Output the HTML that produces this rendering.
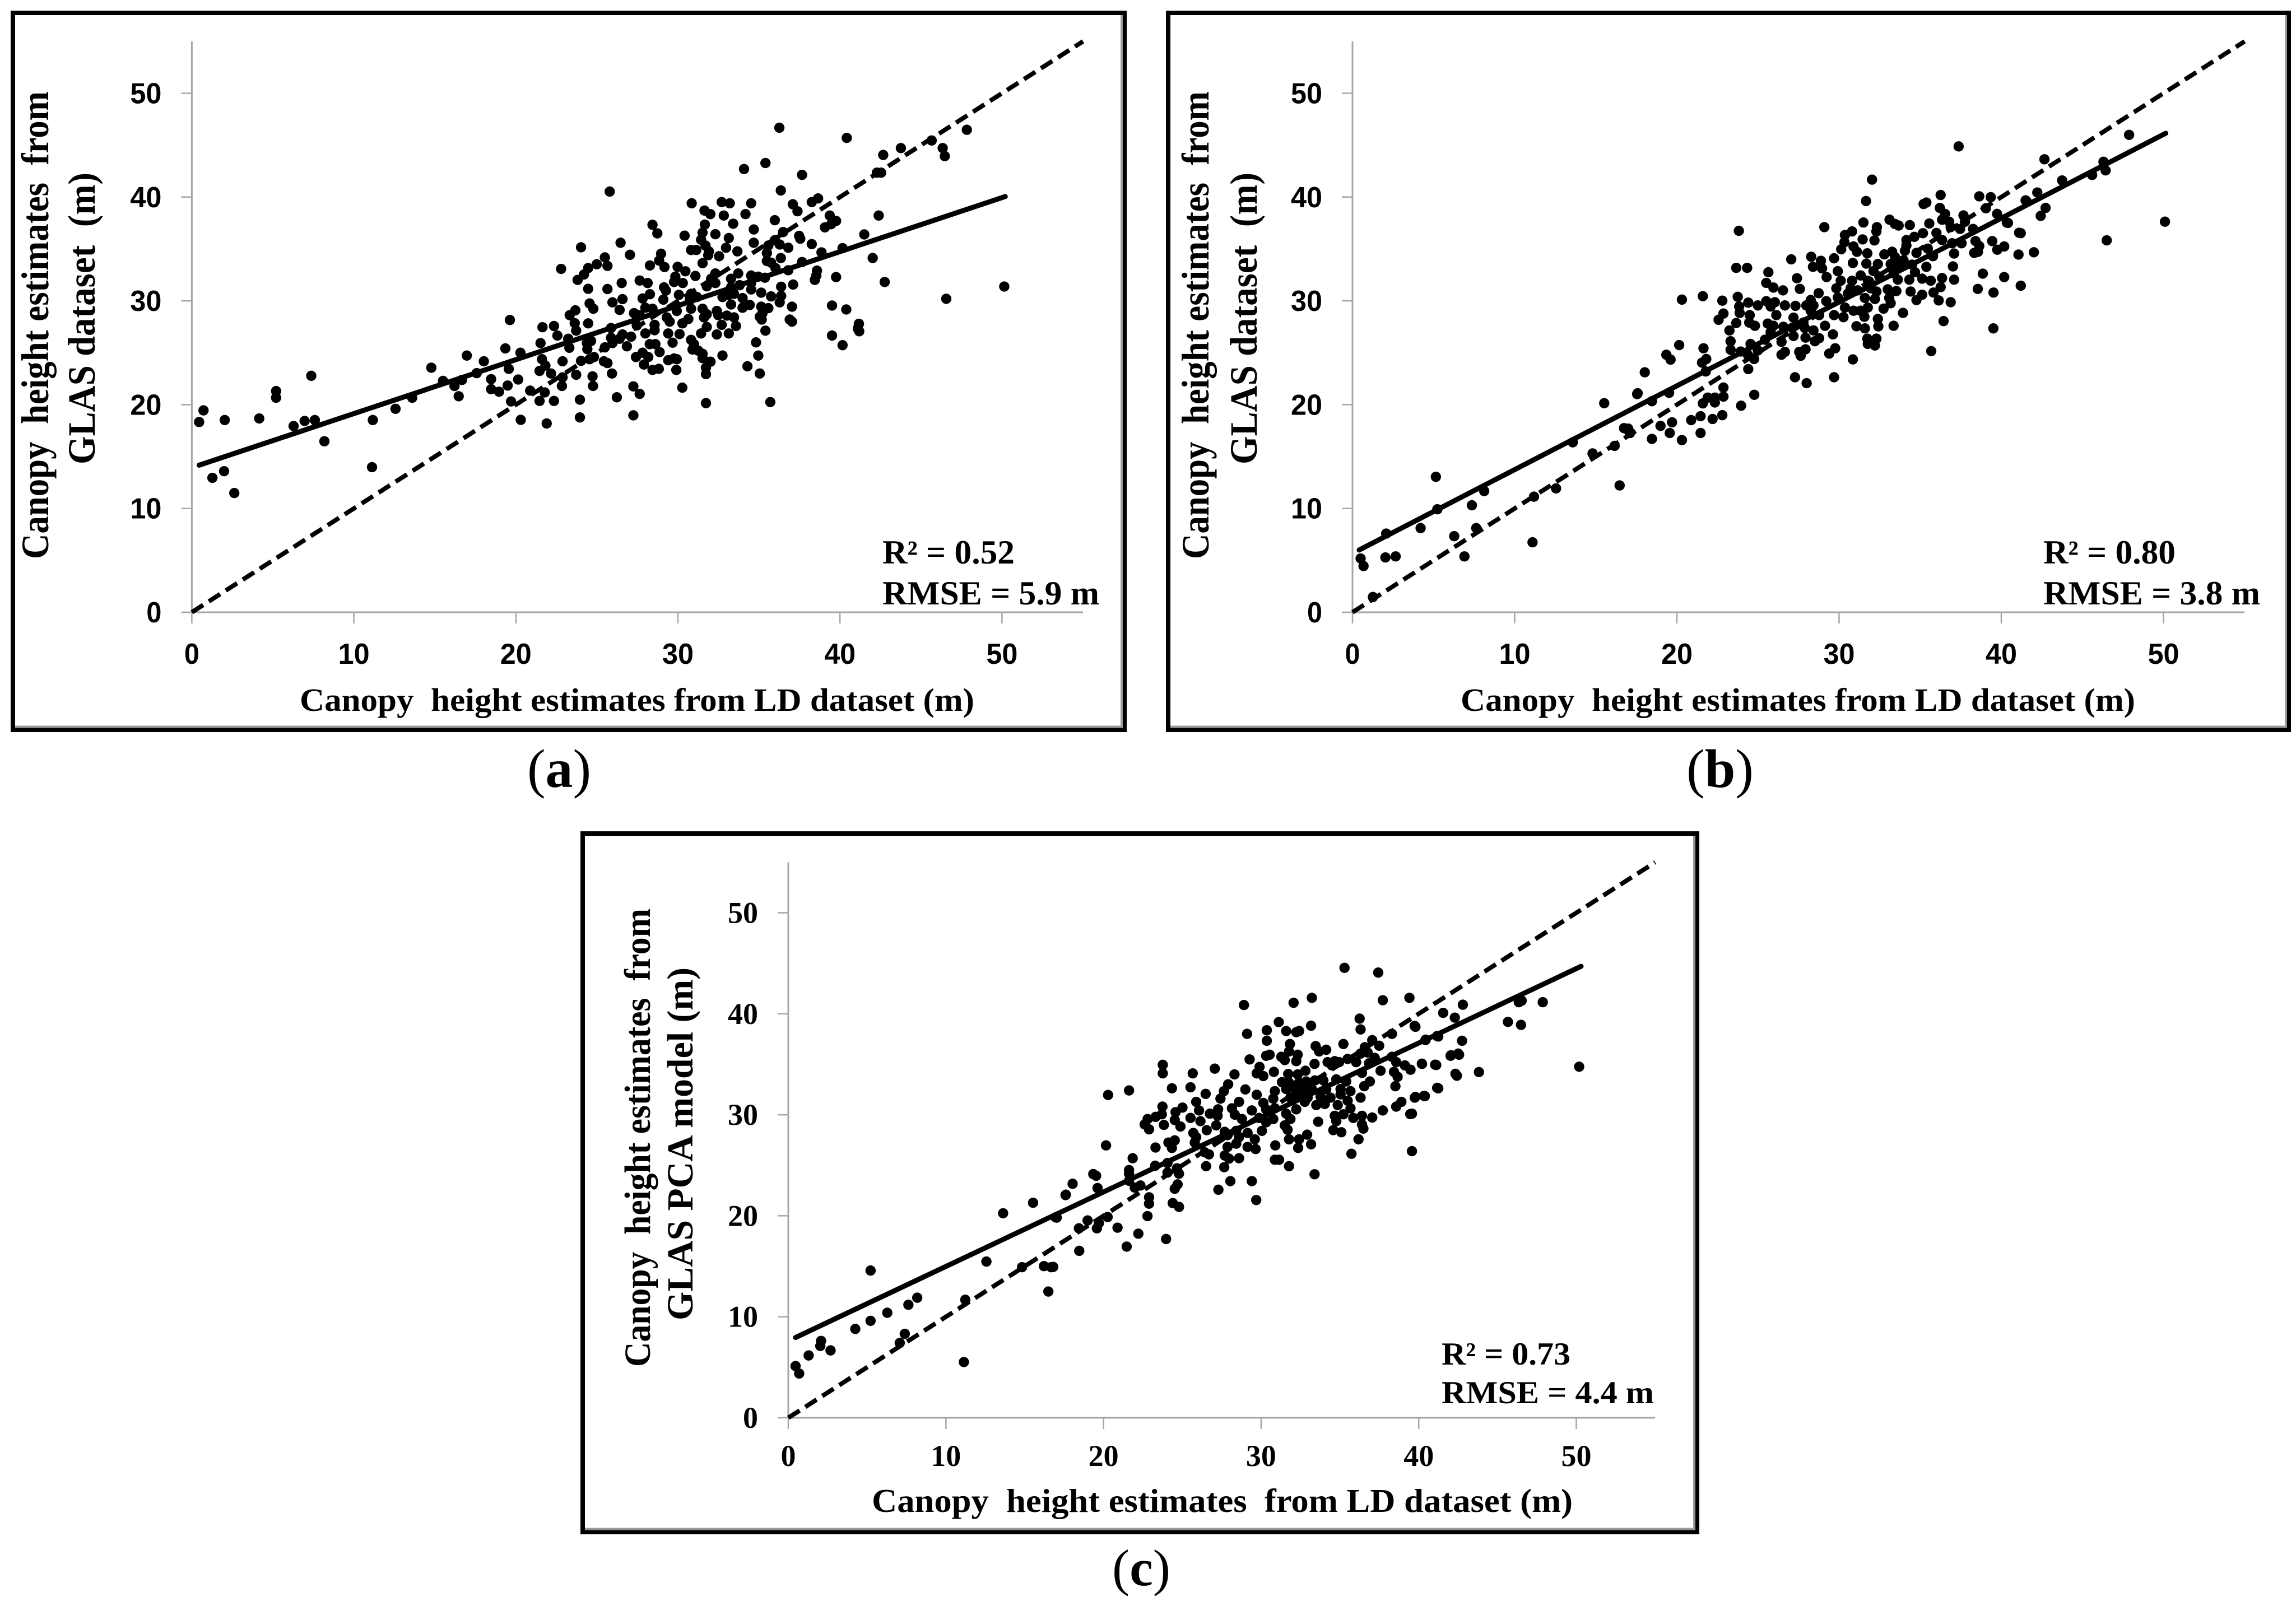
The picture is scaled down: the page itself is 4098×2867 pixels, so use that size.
<!DOCTYPE html>
<html lang="en">
<head>
<meta charset="utf-8">
<title>Canopy height estimates comparison</title>
<style>
html,body{margin:0;padding:0;background:#fff;}
svg{display:block;}
.serif{font-family:"Liberation Serif","Times New Roman",serif;font-weight:700;fill:#000;}
</style>
</head>
<body>
<svg id="figure" xmlns="http://www.w3.org/2000/svg" width="4098" height="2867" viewBox="0 0 4098 2867">
<rect x="0" y="0" width="4098" height="2867" fill="#fff"/>

<g id="panel-a">
<rect x="23" y="23" width="1984" height="1280" fill="#fff" stroke="#000" stroke-width="8"/>
<path d="M2002 27V1297.5H27" fill="none" stroke="#999" stroke-width="4"/>
<text class="serif" x="535" y="1269" font-size="58" textLength="1204" lengthAdjust="spacingAndGlyphs" xml:space="preserve">Canopy  height estimates from LD dataset (m)</text>
<text class="serif" transform="translate(86,998) rotate(-90)" font-size="69" textLength="835" lengthAdjust="spacingAndGlyphs" xml:space="preserve">Canopy  height estimates  from</text>
<text class="serif" transform="translate(169,829) rotate(-90)" font-size="69" textLength="521" lengthAdjust="spacingAndGlyphs" xml:space="preserve">GLAS dataset  (m)</text>
<text class="serif" x="1575" y="1006" font-size="60" textLength="236" lengthAdjust="spacingAndGlyphs">R² = 0.52</text>
<text class="serif" x="1575" y="1079" font-size="60" textLength="387" lengthAdjust="spacingAndGlyphs">RMSE = 5.9 m</text>
</g>
<text class="serif" x="941" y="1405" font-size="98" textLength="114" lengthAdjust="spacingAndGlyphs"><tspan font-weight="400">(</tspan>a<tspan font-weight="400">)</tspan></text>

<g id="panel-b">
<rect x="2085" y="23" width="2000" height="1280" fill="#fff" stroke="#000" stroke-width="8"/>
<path d="M4080 27V1297.5H2089" fill="none" stroke="#999" stroke-width="4"/>
<text class="serif" x="2607" y="1269" font-size="58" textLength="1204" lengthAdjust="spacingAndGlyphs" xml:space="preserve">Canopy  height estimates from LD dataset (m)</text>
<text class="serif" transform="translate(2157,998) rotate(-90)" font-size="69" textLength="835" lengthAdjust="spacingAndGlyphs" xml:space="preserve">Canopy  height estimates  from</text>
<text class="serif" transform="translate(2243,829) rotate(-90)" font-size="69" textLength="521" lengthAdjust="spacingAndGlyphs" xml:space="preserve">GLAS dataset  (m)</text>
<text class="serif" x="3647" y="1006" font-size="60" textLength="236" lengthAdjust="spacingAndGlyphs">R² = 0.80</text>
<text class="serif" x="3647" y="1079" font-size="60" textLength="387" lengthAdjust="spacingAndGlyphs">RMSE = 3.8 m</text>
</g>
<text class="serif" x="3010" y="1405" font-size="98" textLength="120" lengthAdjust="spacingAndGlyphs"><tspan font-weight="400">(</tspan>b<tspan font-weight="400">)</tspan></text>

<g id="panel-c">
<rect x="1040" y="1488" width="1989" height="1247" fill="#fff" stroke="#000" stroke-width="8"/>
<path d="M3024 1492V2729.5H1044" fill="none" stroke="#999" stroke-width="4"/>
<text class="serif" x="1556" y="2699" font-size="59" textLength="1251" lengthAdjust="spacingAndGlyphs" xml:space="preserve">Canopy  height estimates  from LD dataset (m)</text>
<text class="serif" transform="translate(1160,2440) rotate(-90)" font-size="66" textLength="818" lengthAdjust="spacingAndGlyphs" xml:space="preserve">Canopy  height estimates  from</text>
<text class="serif" transform="translate(1236,2357) rotate(-90)" font-size="66" textLength="630" lengthAdjust="spacingAndGlyphs" xml:space="preserve">GLAS PCA model (m)</text>
<text class="serif" x="2573" y="2436" font-size="57" textLength="230" lengthAdjust="spacingAndGlyphs">R² = 0.73</text>
<text class="serif" x="2573" y="2505" font-size="57" textLength="379" lengthAdjust="spacingAndGlyphs">RMSE = 4.4 m</text>
</g>
<text class="serif" x="1985" y="2830" font-size="92" textLength="104" lengthAdjust="spacingAndGlyphs"><tspan font-weight="400">(</tspan>c<tspan font-weight="400">)</tspan></text>
</svg>

<script>
const xTickValues = [0, 10, 20, 30, 40, 50];
const yTickValues = [0, 10, 20, 30, 40, 50];
const axisMax = 55;
const identityLine = [[0, 0], [55, 55]];
const trendA = [[0.45, 14.17], [50.2, 40.05]];
const trendB = [[0.41, 6.0], [50.14, 46.15]];
const trendC = [[0.46, 7.95], [50.3, 44.7]];

const pointsA = [
[0.45,18.33],[0.72,19.45],[2.03,18.52],[1.27,12.95],[1.99,13.59],[2.62,11.49],[4.16,18.67],[5.2,21.31],[5.2,20.67],[6.28,17.94],[6.96,18.43],[7.37,22.78],[7.59,18.52],[8.18,16.47],[11.12,13.98],[11.17,18.52],[12.57,19.6],[13.6,20.67],[14.78,23.56],[15.5,22.29],
[36.26,46.68],[40.42,45.7],[43.76,44.72],[45.66,45.45],[46.34,44.72],[46.47,43.94],[47.83,46.48],[46.56,30.2],[50.14,31.38],
[25.79,40.53],[34.08,42.7],[35.4,43.28],[37.66,42.14],[36.35,40.64],[42.67,44.06],[42.28,42.35],[42.54,42.35],[30.85,39.4],[32.7,39.52],[33.2,39.4],[34.52,39.4],[31.64,38.7],[32,38.36],[32.83,38.22],[34.17,38.36],[35.98,37.77],[37.09,39.31],[37.38,38.63],[38.26,39.52],[38.65,39.87],
[39.37,38.22],[39.76,37.7],[39.07,37.08],[39.46,37.39],[42.39,38.22],[41.5,36.4],[31.66,37.35],[33.41,37.43],[34.68,36.88],[28.43,37.33],[28.73,36.5],[30.41,36.28],[31.52,36.57],[32.31,36.42],[31.43,35.89],[33.14,36.05],[36.49,36.63],[37.48,36.26],[37.55,35.99],[38.26,35.47],
[26.46,35.6],[24.02,35.16],[27.04,34.44],[31.7,35.33],[31.91,34.77],[32.97,35.12],[34.68,35.6],[35.98,35.84],[36.81,35.12],[36.28,35.43],[35.58,35.33],[35.49,34.6],[30.81,34.9],[31.13,34.9],[31.87,34.4],[32.54,34.3],[33.67,34.77],[38.86,34.67],[40.16,35.08],[42.02,34.13],
[36.35,34.13],[35.49,33.84],[35.75,33.68],[37.66,33.74],[28.96,34.54],[28.84,33.88],[29.17,33.26],[28.27,33.41],[25.49,34.19],[24.99,33.53],[25.65,33.37],[24.46,33.16],[22.79,33.08],[31.52,33.63],[29.98,33.28],[30.46,32.85],[36.02,33.16],[36.81,32.95],[38.58,32.91],[38.54,32.44],
[38.45,32.02],[39.76,32.29],[42.76,31.82],[24.2,32.54],[23.81,32.02],[29.84,32.33],[29.76,31.82],[30.3,31.72],[31.08,32.4],[32.31,32.64],[32.05,32.13],[31.78,31.4],[32.31,31.72],[33.72,32.64],[33.28,32.13],[34.52,32.44],[34.96,32.33],[35.37,32.23],[33.81,31.51],[34.52,31.72],
[33.28,31.3],[34.52,31.1],[36.37,31.36],[37.11,31.57],[27.64,31.96],[28.13,31.72],[26.53,31.72],[24.46,31.16],[25.65,31.14],[29.14,31.3],[29.26,30.99],[35.14,30.79],[35.75,30.43],[36.37,30.48],[36.28,29.86],[28.27,30.64],[27.82,30.23],[30.06,30.58],[29.1,30.12],[30.81,30.68],
[31.17,30.37],[30.73,30.06],[33.11,30.58],[32.75,30.37],[33.46,30.68],[33.99,30.27],[26.58,30.17],[25.96,29.86],[24.55,29.75],[24.78,29.24],[26.4,29.13],[23.67,29.09],[23.32,28.62],[27.99,29.34],[28.43,29.24],[27.29,28.82],[27.64,28.62],[29.93,29.03],[30.81,29.24],[31.52,29.24],
[31.78,28.72],[32.4,29.03],[33.28,29.65],[33.99,29.34],[34.43,29.61],[35.14,29.44],[35.58,29.3],[35.22,28.82],[35.05,28.47],[37.04,29.44],[39.51,29.55],[40.39,29.17],[36.9,28.2],[37.04,28],[35.17,28.2],[33.46,28.41],[33.02,28.58],[32.49,28.62],[31.61,28.41],[30.64,28.25],
[30.28,27.83],[29.31,28.41],[29.49,28],[19.63,28.16],[21.64,27.46],[22.35,27.58],[23.63,27.85],[24.46,27.83],[23.72,27.13],[22.56,26.66],[25.87,27.38],[27.46,27.63],[28.56,27.69],[28.56,27.17],[29.4,26.86],[30.1,26.8],[31.78,27.48],[31.43,26.86],[32.7,27.69],[33.58,27.58],
[32.4,26.76],[33.14,26.86],[35.4,27.13],[41.17,27.79],[41.1,27.34],[41.19,27.07],[39.51,26.66],[40.16,25.73],[34.82,26],[29.67,25.97],[30.81,26.24],[30.99,25.83],[30.9,25.31],[31.25,25.21],[27.99,26.86],[27.11,26.55],[26.58,26.76],[25.87,26.45],[26.4,26.35],[23.23,26.35],
[24.64,26.14],[24.38,25.93],[21.52,25.93],[25.96,25.93],[26.85,25.62],[25.49,25.52],[23.3,25.48],[24.41,25.35],[19.35,25.42],[20.28,25],[28.26,25.83],[28.61,25.83],[28.87,25.07],[27.82,25],[27.41,24.59],[28.17,24.59],[27.9,23.87],[29.4,24.28],[29.76,24.45],[29.93,24.38],
[31.52,24.9],[31.52,24.49],[32.01,24.14],[32.75,24.73],[34.96,24.73],[34.29,23.7],[35.05,23],[31.73,23.56],[31.73,22.94],[29.9,23.35],[28.43,23.35],[28.82,23.45],[16.97,24.73],[18.02,24.18],[21.61,24.38],[21.82,23.76],[21.46,23.25],[19.56,23.45],[17.58,23.04],[22.17,23],
[22.88,24.18],[24.02,24.22],[24.55,24.38],[24.82,24.59],[25.43,24.18],[25.65,24.01],[23.72,22.88],[24.73,22.73],[25.93,23],[22.88,22.63],[22.84,21.8],[24.76,21.8],[18.47,22.46],[20.14,22.42],[19.49,21.84],[18.47,21.49],[18.96,21.25],[16.67,22.38],[16.21,21.8],[16.47,20.81],
[20.88,21.35],[21.78,21.18],[27.25,21.76],[27.64,21.04],[30.27,21.64],[19.7,20.31],[21.46,20.36],[22.35,20.36],[23.95,20.48],[26.23,20.71],[20.3,18.54],[21.9,18.19],[23.95,18.77],[27.25,18.97],[31.73,20.15],[35.7,20.25]
];

const pointsB = [
[0.5,5.18],[0.68,4.45],[2.03,5.28],[2.08,7.58],[2.66,5.38],[4.2,8.11],[5.14,13.05],[5.23,9.92],[6.27,7.33],[6.9,5.38],[7.36,10.31],[7.63,8.11],[8.12,11.68],[1.26,1.47],[11.1,6.74],[11.19,11.14],[12.55,11.93],[13.58,16.37],[14.8,15.3],[15.52,20.14],[16.16,16.03],[16.47,12.22],[16.74,17.74],[17.06,17.4],[17.55,21.02],
[47.88,45.99],[46.3,43.4],[46.43,42.57],[45.6,42.13],[46.5,35.83],[50.09,37.63],[41.1,36.56],[40.34,37.54],[41.56,39.59],
[37.37,44.88],[42.66,43.64],[32.03,41.68],[31.66,39.62],[36.26,40.2],[38.64,40.07],[39.35,39.99],[35.38,39.47],[35.21,39.33],[36.21,38.96],[39.05,38.92],[36.53,38.38],[37.67,38.23],[39.74,38.38],[43.75,41.6],[42.22,40.44],[41.5,39.68],[42.73,38.96],[42.43,38.19],[33.11,37.82],[33.44,37.41],
[33.67,37.26],[34.36,37.3],[35.56,37.45],[36.35,37.82],[36.79,37.62],[36.88,37.1],[37.76,37.62],[37.46,36.93],[38.26,36.93],[40.41,37.51],[41.2,36.52],[29.09,37.1],[31.5,37.55],[32.33,37.1],[32.3,36.69],[30.8,36.69],[30.36,36.34],[31.45,35.92],[32.18,35.82],[35.17,36.52],
[34.64,36.17],[34.15,35.86],[34.15,35.34],[36,36.54],[36.35,35.86],[36.97,35.55],[37.55,35.55],[38.41,35.76],[38.64,35.28],[39.44,35.76],[40.18,35.24],[39.75,34.93],[23.82,36.75],[30.33,35.65],[30.13,34.97],[30.89,35.24],[31.1,34.73],[31.74,34.58],[34.06,34.83],[34.77,34.62],
[35.47,35.03],[35.79,34.31],[37.09,34.56],[38.33,34.62],[38.56,34.72],[41.06,34.46],[42.01,34.68],[32.79,34.48],[33.27,34.73],[33.45,34.21],[33.97,33.9],[28.28,34.25],[27.05,34],[28.88,33.86],[29.69,34.1],[28.39,33.28],[28.95,33.13],[30.85,33.65],[31.68,33.59],[32.39,33.55],
[33.18,33.55],[33.71,33.28],[34.5,33.49],[35.38,33.28],[37.02,33.32],[23.66,33.18],[24.33,33.18],[25.64,32.76],[29.92,32.86],[32.12,32.87],[31.33,32.45],[32.48,32.35],[33.36,32.66],[34.68,32.76],[27.4,32.18],[29.23,32.29],[38.86,32.62],[40.18,32.29],[36.35,32.2],[37.09,32.04],
[30.1,31.94],[30.8,31.94],[31.77,31.94],[33.62,32.04],[34.33,32.04],[35.12,32.14],[35.65,31.94],[25.51,31.73],[25.95,31.28],[26.54,31.01],[27.58,31.15],[29.83,31.21],[30.71,31.21],[31.15,31.01],[31.95,31.21],[32.3,30.9],[33,31.11],[33.53,30.95],[34.41,30.9],[35.12,30.59],
[36.26,31.32],[35.82,30.8],[38.55,31.15],[39.52,30.8],[41.2,31.46],[28.74,30.74],[23.75,30.39],[21.6,30.45],[20.31,30.12],[22.8,30.02],[24.4,29.83],[25.51,29.97],[26.04,29.87],[24.99,29.56],[26.66,29.56],[27.31,29.52],[28.25,30.08],[27.98,29.56],[28.42,29.56],[29.21,29.97],
[29.92,30.33],[30.54,30.7],[31.59,30.28],[32.21,30.18],[33.09,30.28],[33.18,29.77],[34.77,30.08],[36.14,30.04],[36.88,29.87],[23.84,29.46],[23.87,28.84],[25.78,29.46],[26.13,28.63],[28.25,29.05],[28.77,28.63],[30.36,29.36],[30.89,29.05],[31.33,29.05],[31.77,29.36],[32.74,29.25],
[22.87,28.78],[22.57,28.18],[24.49,28.63],[23.66,27.87],[24.46,27.91],[24.81,27.6],[27.19,28.38],[27.8,27.91],[29.69,28.63],[30.27,28.43],[31.56,28.47],[32.39,28.26],[32.42,27.54],[33.94,28.84],[36.44,28.05],[39.51,27.35],[25.6,27.81],[25.95,27.6],[26.57,27.5],[27.1,27.39],
[29.13,27.6],[27.89,27.39],[31.07,27.56],[31.59,27.35],[33.36,27.6],[23.24,27.15],[25.78,26.98],[28.42,27.15],[29.62,26.77],[27.19,26.61],[27.93,26.46],[28.77,26.4],[28.51,26.11],[23.31,26.11],[31.74,26.36],[31.77,25.85],[32.3,26.36],[32.21,25.7],[20.14,25.74],[25.43,26.26],
[26.45,26.05],[24.54,25.85],[21.64,25.43],[23.31,25.29],[29.76,25.43],[27.93,25.33],[27.54,25.08],[26.66,25.08],[26.45,24.81],[29.39,24.92],[27.63,24.71],[35.68,25.16],[24.99,25.22],[23.93,25.12],[24.37,24.81],[19.35,24.81],[19.61,24.34],[21.81,24.4],[21.55,24.05],[30.85,24.36],
[24.76,24.4],[24.4,23.43],[21.78,23.2],[18.02,23.12],[27.28,22.64],[28,22.07],[29.69,22.64],[17.58,21.1],[22.87,21.65],[19.52,21.14],[24.77,20.95],[18.46,20.33],[21.9,20.68],[22.87,20.78],[22.34,20.68],[22.34,20.21],[21.6,20.12],[23.96,19.9],[22.8,18.99],[21.46,18.89],
[22.2,18.62],[20.88,18.51],[19.7,18.3],[18.99,17.96],[19.56,17.27],[21.46,17.27],[18.46,16.7],[20.31,16.59],[17,17.69],[17.11,17.27]
];

const pointsC = [
[0.46,5.12],[0.69,4.38],[1.29,6.17],[2.08,7.61],[2.03,7.11],[2.68,6.67],[4.25,8.8],[5.22,14.58],[5.22,9.6],[6.28,10.4],[7.07,7.41],[7.39,8.31],[7.62,11.19],[8.18,11.89],[11.14,5.52],[11.23,11.69],[12.57,15.47],[13.63,20.25],[14.83,14.91],[15.53,21.29],[16.22,15.02],[16.5,12.5],[16.68,14.91],[16.96,19.85],[17.61,22.09],
[45.66,39.2],[46.49,38.9],[46.35,41.15],[46.53,41.3],[47.87,41.15],[50.18,34.76],[42.51,36.06],[42.33,34.06],[42.05,35.9],[41.17,32.67],[41.04,34.96],[41.17,37.8],[40.43,37.4],[40.2,35.06],[40.34,31.87],[39.79,31.77],[39.74,38.8],[39.46,30.07],
[35.29,44.55],[37.43,44.08],[33.22,41.58],[32.06,41.09],[28.91,40.87],[37.72,41.34],[39.41,41.58],[42.8,40.9],[41.55,40.09],[42.29,39.62],[36.25,39.52],[36.31,38.45],[31.12,39.18],[33.17,38.82],[30.36,38.37],[31.59,38.29],[32.23,38.18],[32.41,38.29],[29.11,38.01],[39.79,38.71],[38.3,38.01],
[37.05,37.39],[30.36,37.33],[31.83,37.01],[35.22,37.01],[37.49,36.84],[42.75,37.33],[40.44,37.44],[41.24,37.75],[33.46,36.8],[33.68,36.27],[34.13,36.44],[36.58,36.69],[31.77,36.27],[32.32,35.95],[32.23,35.31],[30.32,35.84],[30.54,35.95],[29.27,35.48],[31.28,35.74],[31.5,35.42],
[36.31,36.06],[36.76,36.16],[37.21,35.63],[38.3,35.74],[42.02,35.84],[42.56,35.95],[34.22,35.21],[34.67,35.31],[35.49,35.53],[36.03,35.21],[34.49,34.89],[34.95,35.21],[36.85,35.1],[33.39,35.04],[38.57,35.21],[39.12,34.89],[39.48,34.46],[40.21,35.04],[41.11,34.93],[43.82,34.23],
[23.76,34.95],[23.76,34.1],[27.06,34.57],[25.66,34.1],[28.31,34],[29.9,34.74],[29.72,34.1],[30.14,33.83],[30.81,34.25],[32.81,34.36],[32.32,34],[31.72,34.04],[36.4,34.15],[37.58,34.36],[38.43,34.25],[38.66,33.76],[42.42,33.87],[27.91,33.02],[27.64,32.34],[24.34,32.62],
[25.52,32.72],[21.62,32.41],[20.29,31.96],[29,32.51],[26.48,32.07],[29.72,31.98],[31.32,33.23],[31.77,33.19],[32.41,33.19],[32.86,33.3],[33.41,33.4],[33.95,33.4],[34.77,33.51],[35.4,33.3],[36.9,33.3],[36.54,32.83],[38.52,32.83],[41.24,32.62],[30.87,32.34],[31.59,32.55],
[32.14,32.55],[32.68,32.34],[33.22,32.55],[34.13,32.55],[35.04,32.55],[35.67,32.34],[35.04,32.02],[36.31,31.7],[30.77,31.6],[31.86,31.7],[32.41,31.92],[32.95,31.7],[33.77,31.81],[34.4,31.7],[35.49,31.39],[27.42,31.6],[25.88,31.28],[28.6,31.28],[39.75,31.7],[40.39,31.85],
[38.9,31.28],[38.57,30.81],[30.14,31.17],[32.77,31.28],[33.5,30.96],[34.04,31.07],[34.86,30.96],[23.74,30.81],[25.01,30.71],[28.15,30.64],[27.27,30.54],[26.06,30.43],[32.23,30.54],[35.67,30.64],[29.41,30.43],[30.32,30.54],[30.87,30.64],[37.72,30.43],[39.57,30.11],[24.57,30.26],
[23.3,29.79],[23.7,30.05],[26.75,30.11],[27.24,29.9],[28.33,30.01],[31.59,30.11],[34.67,29.9],[35.22,30.05],[35.85,29.69],[36.4,29.9],[37.05,29.73],[22.8,29.58],[22.61,29.05],[22.89,28.56],[24.52,29.48],[24.88,28.84],[23.83,29],[25.52,29.69],[26.15,29.37],[27.15,28.95],
[28.78,29.58],[29.87,29.69],[30.77,29.58],[31.86,29.58],[31.5,28.95],[30.32,29.26],[34.77,29.37],[33.62,29.31],[36.4,29.05],[36.49,28.63],[26.55,28.48],[27.69,28.31],[28.42,28.41],[25.7,28.2],[30.05,28.41],[31.68,28.52],[34.58,28.48],[35.09,28.27],[29.14,28.2],[32.92,28.03],
[25.88,27.78],[27.87,27.99],[28.6,27.78],[29.6,27.57],[31.77,27.57],[32.41,27.57],[36.18,27.57],[24.52,27.47],[24.12,27.25],[25.79,27.25],[20.16,26.97],[23.3,26.76],[24.34,26.72],[28.42,27.14],[27.87,26.82],[29.14,26.82],[29.65,26.61],[30.9,26.97],[33.17,27.08],[32.35,26.72],
[39.57,26.4],[26.42,26.29],[26.69,26.08],[35.73,26.14],[27.69,25.97],[27.96,25.66],[28.6,25.7],[30.87,25.55],[31.14,25.55],[21.85,25.7],[31.77,24.91],[23.28,24.96],[24.06,25.23],[24.66,24.7],[26.51,24.91],[27.66,24.81],[21.62,24.53],[21.62,24.17],[24.06,24.28],[24.79,24.17],
[19.35,24.13],[19.53,23.96],[33.39,24.11],[21.62,23.47],[28.05,23.43],[29.41,23.43],[19.62,22.75],[18.04,23.17],[24.7,23.11],[22.34,23],[24.52,22.68],[21.98,22.79],[17.59,22.05],[27.29,22.58],[22.89,21.83],[22.89,21.2],[29.69,21.56],[24.39,21.26],[24.79,20.88],[22.79,19.97],
[20.26,19.88],[17.03,19.82],[18.99,19.54],[19.71,19.29],[19.58,18.76],[18.44,18.76],[20.89,18.82],[22.21,18.23],[23.97,17.7],[21.47,16.95],[18.46,16.53],[16.81,14.94]
];

const NS = 'http://www.w3.org/2000/svg';

function makeLine(parent, x1, y1, x2, y2, stroke, width) {
  const l = document.createElementNS(NS, 'line');
  l.setAttribute('x1', x1);
  l.setAttribute('y1', y1);
  l.setAttribute('x2', x2);
  l.setAttribute('y2', y2);
  l.setAttribute('stroke', stroke);
  l.setAttribute('stroke-width', width);
  parent.appendChild(l);
  return l;
}

function drawPanel(id, prefix, layout, points, trend) {
  const g = document.getElementById(id);
  const sx = function (v) { return layout.ox + v * layout.kx; };
  const sy = function (v) { return layout.oy - v * layout.ky; };

  const yAxis = makeLine(g, sx(0), sy(axisMax), sx(0), sy(0), '#a6a6a6', 3);
  
  
  const xAxis = makeLine(g, sx(0), sy(0), sx(axisMax), sy(0), '#a6a6a6', 3);
  
  

  xTickValues.forEach(function (v) {
    const t = makeLine(g, sx(v), sy(0), sx(v), sy(0) + 20, '#a6a6a6', 2.5);
    
    
    const s = document.createElementNS(NS, 'text');
    
    
    s.setAttribute('x', sx(v));
    s.setAttribute('y', sy(0) + layout.xLabelDy);
    s.setAttribute('text-anchor', 'middle');
    s.setAttribute('font-family', layout.tickFont);
    s.setAttribute('font-weight', '700');
    s.setAttribute('font-size', layout.tickSize);
    s.setAttribute('textLength', String(v).length === 1 ? layout.tickW1 : layout.tickW2);
    s.setAttribute('lengthAdjust', 'spacingAndGlyphs');
    s.textContent = String(v);
    g.appendChild(s);
  });

  yTickValues.forEach(function (v) {
    const t = makeLine(g, sx(0) - 19, sy(v), sx(0), sy(v), '#a6a6a6', 2.5);
    
    
    const s = document.createElementNS(NS, 'text');
    
    
    s.setAttribute('x', sx(0) - 54);
    s.setAttribute('y', sy(v) + 18);
    s.setAttribute('text-anchor', 'end');
    s.setAttribute('font-family', layout.tickFont);
    s.setAttribute('font-weight', '700');
    s.setAttribute('font-size', layout.tickSize);
    s.setAttribute('textLength', String(v).length === 1 ? layout.tickW1 : layout.tickW2);
    s.setAttribute('lengthAdjust', 'spacingAndGlyphs');
    s.textContent = String(v);
    g.appendChild(s);
  });

  const dash = makeLine(g, sx(identityLine[0][0]), sy(identityLine[0][1]), sx(identityLine[1][0]), sy(identityLine[1][1]), '#000', 8);
  dash.setAttribute('stroke-dasharray', '24 12');
  
  

  const solid = makeLine(g, sx(trend[0][0]), sy(trend[0][1]), sx(trend[1][0]), sy(trend[1][1]), '#000', 9);
  solid.setAttribute('stroke-linecap', 'round');
  
  

  points.forEach(function (p) {
    const c = document.createElementNS(NS, 'circle');
    c.setAttribute('cx', sx(p[0]));
    c.setAttribute('cy', sy(p[1]));
    c.setAttribute('r', 9.2);
    c.setAttribute('fill', '#000');
    
    
    g.appendChild(c);
  });
}

const sansTick = '"Liberation Sans", sans-serif';
const serifTick = '"Liberation Serif", serif';
drawPanel('panel-a', 'panel-a', {ox: 342.4, oy: 1093, kx: 28.92, ky: 18.53, xLabelDy: 92, tickFont: sansTick, tickSize: 52, tickW1: 27, tickW2: 56}, pointsA, trendA);
drawPanel('panel-b', 'panel-b', {ox: 2414, oy: 1093, kx: 28.95, ky: 18.53, xLabelDy: 92, tickFont: sansTick, tickSize: 52, tickW1: 27, tickW2: 56}, pointsB, trendB);
drawPanel('panel-c', 'panel-c', {ox: 1407, oy: 2531, kx: 28.13, ky: 18.03, xLabelDy: 86, tickFont: serifTick, tickSize: 54, tickW1: 27, tickW2: 54}, pointsC, trendC);
</script>
</body>
</html>
